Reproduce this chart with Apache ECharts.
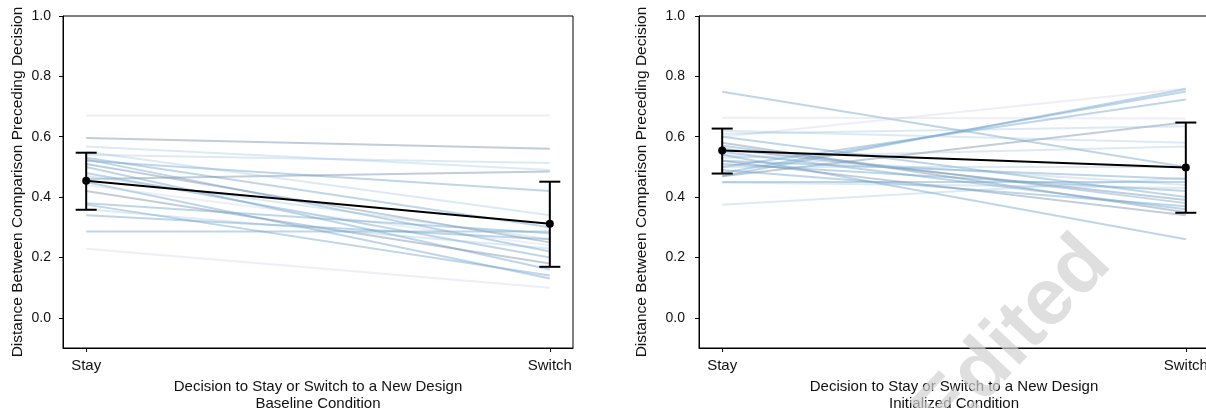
<!DOCTYPE html>
<html>
<head>
<meta charset="utf-8">
<script src="https://cdn.jsdelivr.net/npm/echarts@6/dist/echarts.min.js"></script>
<style>
html,body{margin:0;padding:0;background:#fff;}
#chart{width:1206px;height:408px;}
</style>
</head>
<body>
<div id="chart"></div>
<script>
// ---- data ----
const categories = ['Stay', 'Switch'];
const yTicks = [0, 0.2, 0.4, 0.6, 0.8, 1.0];
const xTitle = 'Decision to Stay or Switch to a New Design';
const yTitle = 'Distance Between Comparison Preceding Decision';
const panelTitles = ['Baseline Condition', 'Initialized Condition'];

// individual participants (Stay value, Switch value)
const baselineStay   = [0.67, 0.596, 0.568, 0.54, 0.53, 0.525, 0.52, 0.51, 0.50, 0.46, 0.48, 0.47, 0.45, 0.44, 0.42, 0.38, 0.375, 0.36, 0.34, 0.286, 0.229, 0.55];
const baselineSwitch = [0.67, 0.56, 0.49, 0.513, 0.30, 0.22, 0.42, 0.25, 0.16, 0.485, 0.20, 0.26, 0.13, 0.24, 0.18, 0.28, 0.14, 0.23, 0.26, 0.286, 0.10, 0.34];
const initStay   = [0.749, 0.663, 0.60, 0.47, 0.48, 0.50, 0.469, 0.62, 0.61, 0.60, 0.58, 0.57, 0.56, 0.55, 0.54, 0.53, 0.52, 0.51, 0.50, 0.49, 0.45, 0.448, 0.375, 0.54, 0.52];
const initSwitch = [0.50, 0.66, 0.76, 0.758, 0.75, 0.723, 0.648, 0.58, 0.635, 0.40, 0.35, 0.38, 0.39, 0.36, 0.44, 0.568, 0.46, 0.42, 0.50, 0.37, 0.45, 0.43, 0.463, 0.26, 0.34];

// group means and error bars
const baselineMean = [0.454, 0.312];
const baselineLow  = [0.358, 0.169];
const baselineHigh = [0.547, 0.451];
const initMean = [0.554, 0.498];
const initLow  = [0.478, 0.348];
const initHigh = [0.627, 0.647];

// ---- styles (kept separate from data) ----
const palette = {
  blue:  'rgba(110,165,205,0.45)',
  gray:  'rgba(120,145,170,0.45)',
  pale:  'rgba(150,190,220,0.32)',
  faint: 'rgba(195,200,225,0.30)'
};
const baselineTones = ['faint','gray','pale','pale','blue','blue','blue','gray','blue','gray','blue','pale','blue','faint','gray','blue','blue','pale','blue','blue','faint','pale'];
const initTones = ['blue','faint','faint','blue','blue','blue','gray','pale','pale','blue','gray','blue','gray','blue','pale','pale','blue','blue','pale','blue','blue','pale','pale','blue','gray'];

const FONT = '"Liberation Sans", Arial, Helvetica, sans-serif';
const txt = '#111';

function participantSeries(stay, sw, tones, idx) {
  return stay.map((s, i) => ({
    type: 'line',
    xAxisIndex: idx, yAxisIndex: idx,
    data: [[0, s], [1, sw[i]]],
    symbol: 'none',
    silent: true,
    lineStyle: { width: 2, color: palette[tones[i]] },
    z: 1
  }));
}

function errorSeries(low, high, idx) {
  return {
    type: 'custom',
    xAxisIndex: idx, yAxisIndex: idx,
    data: low.map((l, i) => [i, l, high[i]]),
    encode: { x: 0, y: [1, 2] },
    z: 5,
    renderItem: function (params, api) {
      const x = api.value(0);
      const a = api.coord([x, api.value(1)]);
      const b = api.coord([x, api.value(2)]);
      const w = 10.5;
      const st = { stroke: '#000', lineWidth: 2 };
      return {
        type: 'group',
        children: [
          { type: 'line', shape: { x1: a[0], y1: a[1], x2: b[0], y2: b[1] }, style: st },
          { type: 'line', shape: { x1: a[0] - w, y1: a[1], x2: a[0] + w, y2: a[1] }, style: st },
          { type: 'line', shape: { x1: b[0] - w, y1: b[1], x2: b[0] + w, y2: b[1] }, style: st }
        ]
      };
    }
  };
}

function meanSeries(mean, idx) {
  return {
    type: 'line',
    xAxisIndex: idx, yAxisIndex: idx,
    data: mean.map((m, i) => [i, m]),
    symbol: 'circle', symbolSize: 8,
    itemStyle: { color: '#000' },
    lineStyle: { color: '#000', width: 2 },
    z: 6
  };
}

function xAxis(idx) {
  return {
    type: 'value', gridIndex: idx,
    min: -0.05, max: 1.05,
    splitLine: { show: false },
    axisLine: { show: true, onZero: false, lineStyle: { color: '#000', width: 1 } },
    axisTick: { show: true, length: 4, customValues: [0, 1], lineStyle: { color: '#000' } },
    axisLabel: {
      customValues: [0, 1], margin: 10,
      formatter: v => categories[Math.round(v)],
      fontFamily: FONT, fontSize: 15, color: txt
    },
    name: xTitle + '\n' + panelTitles[idx],
    nameLocation: 'middle', nameGap: 28,
    nameTextStyle: { fontFamily: FONT, fontSize: 15, color: txt, lineHeight: 17 }
  };
}

function yAxis(idx, gap, margin) {
  return {
    type: 'value', gridIndex: idx,
    min: -0.1, max: 1.0,
    splitLine: { show: false },
    axisLine: { show: true, onZero: false, lineStyle: { color: '#000', width: 1 } },
    axisTick: { show: true, length: 4, customValues: yTicks, lineStyle: { color: '#000' } },
    axisLabel: {
      customValues: yTicks, margin: margin,
      formatter: v => v.toFixed(1),
      fontFamily: FONT, fontSize: 14, color: txt
    },
    name: yTitle,
    nameLocation: 'middle', nameGap: gap, nameRotate: 90,
    nameTextStyle: { fontFamily: FONT, fontSize: 15.5, color: txt }
  };
}

const chart = echarts.init(document.getElementById('chart'), null, { renderer: 'canvas' });
chart.setOption({
  animation: false,
  backgroundColor: '#fff',
  grid: [
    { left: 63, top: 16, width: 510, height: 332, outerBoundsMode: 'none', containLabel: false, show: true, borderColor: '#000', borderWidth: 1, backgroundColor: 'transparent' },
    { left: 699, top: 16, width: 510, height: 332, outerBoundsMode: 'none', containLabel: false, show: true, borderColor: '#000', borderWidth: 1, backgroundColor: 'transparent' }
  ],
  xAxis: [xAxis(0), xAxis(1)],
  yAxis: [yAxis(0, 37, 12), yAxis(1, 49, 14)],
  graphic: [{
    type: 'text', x: 1097, y: 250, rotation: Math.PI * 0.26, z: 100, silent: true,
    style: { text: 'Edited', align: 'right', verticalAlign: 'middle', fontFamily: FONT, fontWeight: 'bold', fontSize: 80, fill: 'rgba(210,210,210,0.7)' }
  }],
  series: [].concat(
    participantSeries(baselineStay, baselineSwitch, baselineTones, 0),
    participantSeries(initStay, initSwitch, initTones, 1),
    [meanSeries(baselineMean, 0), errorSeries(baselineLow, baselineHigh, 0),
     meanSeries(initMean, 1), errorSeries(initLow, initHigh, 1)]
  )
});
</script>
</body>
</html>
